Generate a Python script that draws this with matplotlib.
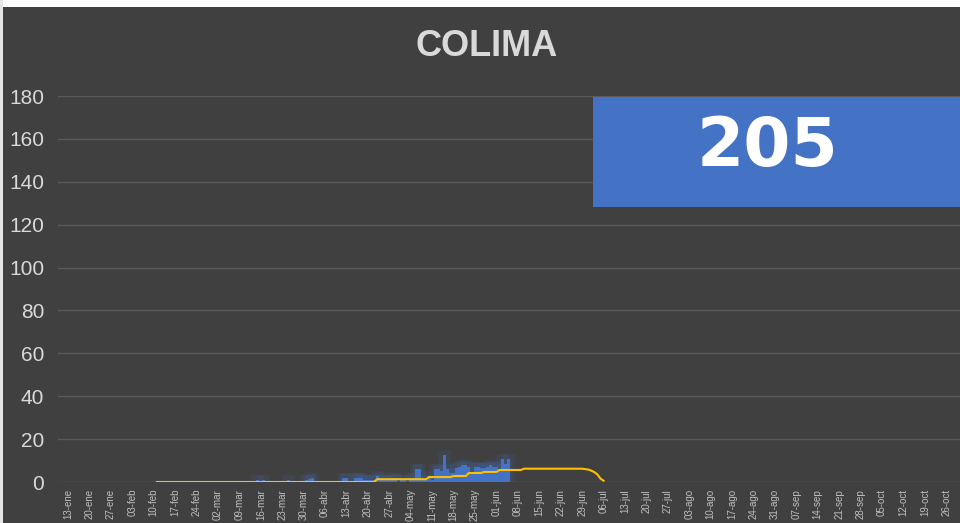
import matplotlib
matplotlib.use("Agg")
import matplotlib.pyplot as plt
from matplotlib.patches import Rectangle

# Day index counted from 13-ene
TICK_LABELS = [
    "13-ene", "20-ene", "27-ene", "03-feb", "10-feb", "17-feb", "24-feb",
    "02-mar", "09-mar", "16-mar", "23-mar", "30-mar", "06-abr", "13-abr",
    "20-abr", "27-abr", "04-may", "11-may", "18-may", "25-may", "01-jun",
    "08-jun", "15-jun", "22-jun", "29-jun", "06-jul", "13-jul", "20-jul",
    "27-jul", "03-ago", "10-ago", "17-ago", "24-ago", "31-ago", "07-sep",
    "14-sep", "21-sep", "28-sep", "05-oct", "12-oct", "19-oct", "26-oct",
]
TICK_DAYS = [7 * i for i in range(len(TICK_LABELS))]

# daily new cases (bars)
BAR_DAYS = [62, 64, 72, 78, 79, 80, 90, 91, 94, 95, 96, 97, 98, 99, 100,
            101, 102, 103, 104, 105, 106, 107, 109, 110, 112, 113, 114, 115,
            116, 117, 118, 119, 120, 121, 122, 123, 124, 125, 126, 127, 128,
            129, 130, 131, 132, 133, 134, 135, 136, 137, 138, 139, 140, 141,
            142, 143, 144]
BAR_VALUES = [1, 1, 1, 1, 1.5, 2, 2, 2, 2, 2, 2, 1, 1, 1, 1,
              3, 2, 1, 1, 1, 2, 2, 1, 1, 2, 2, 6, 6,
              1, 1, 3, 1, 6, 6, 5, 12.5, 6, 4, 4, 6.5, 7,
              8, 8, 7, 4.5, 7, 7, 6.5, 6.5, 7, 8, 7, 7, 6,
              10.5, 8.5, 10.5]

# moving average line (vertices)
LINE_DAYS = [29, 100, 101, 117, 118, 125, 126, 130, 131, 135, 136, 140, 141,
             148, 149, 168, 169, 170, 171, 172, 173, 174, 175]
LINE_VALUES = [0, 0, 1.3, 1.3, 2.3, 2.3, 2.8, 2.8, 4.2, 4.2, 4.7, 4.7, 5.6,
               5.6, 6.2, 6.2, 6.0, 5.8, 5.3, 4.6, 3.5, 1.6, 0.6]

TOTAL = "205"
TITLE = "COLIMA"

BG = "#404040"
TEXT = "#d9d9d9"

plt.rcParams["font.family"] = ["Liberation Sans", "DejaVu Sans"]

fig = plt.figure(figsize=(9.6, 5.23), dpi=100, facecolor=BG)
# white frame edges at top and left
fig.patches.append(Rectangle((0, 1 - 7 / 523), 1, 7 / 523,
                             transform=fig.transFigure, facecolor="white",
                             edgecolor="none", zorder=10))
fig.patches.append(Rectangle((0, 0), 3 / 960, 1,
                             transform=fig.transFigure, facecolor="#e6e6e6",
                             edgecolor="none", zorder=10))

ax = fig.add_axes([58 / 960, 41 / 523, 1 - 58 / 960, 386 / 523])
ax.set_facecolor(BG)
ax.set_xlim(-3.3, 291.5)
ax.set_ylim(0, 180)

ax.set_yticks(range(0, 181, 20))
ax.grid(True, axis="y", color="#5a5a5a", linewidth=1)
ax.set_axisbelow(True)
for s in ax.spines.values():
    s.set_visible(False)

# soft glow behind bars, then the bars themselves
ax.bar(BAR_DAYS, BAR_VALUES, width=1.0, color="none", alpha=0.12,
       edgecolor="#4472C4", linewidth=7, zorder=2)
ax.bar(BAR_DAYS, BAR_VALUES, width=1.0, color="#4472C4", linewidth=0,
       zorder=3)
ax.plot(LINE_DAYS, LINE_VALUES, color="#FFC000", linewidth=1.5, zorder=4)

ax.set_xticks(TICK_DAYS)
ax.set_xticklabels(TICK_LABELS, rotation=90, fontsize=7, color="#bfbfbf")
ax.tick_params(axis="x", length=0, pad=5)
ax.tick_params(axis="y", length=0, pad=10, labelsize=15, labelcolor=TEXT)

fig.text(487 / 960, 1 - 46 / 523, TITLE, ha="center", va="center",
         fontsize=26, fontweight="bold", color=TEXT)

fig.patches.append(Rectangle((593 / 960, 1 - 207 / 523), 1, 110 / 523,
                             transform=fig.transFigure, facecolor="#4472C4",
                             edgecolor="none", zorder=5))
fig.text(768 / 960, 1 - 147 / 523, TOTAL, ha="center", va="center",
         fontsize=49, fontweight="bold", color="white", zorder=6,
         family="DejaVu Sans")

fig.savefig("out.png", dpi=100, facecolor=fig.get_facecolor())
